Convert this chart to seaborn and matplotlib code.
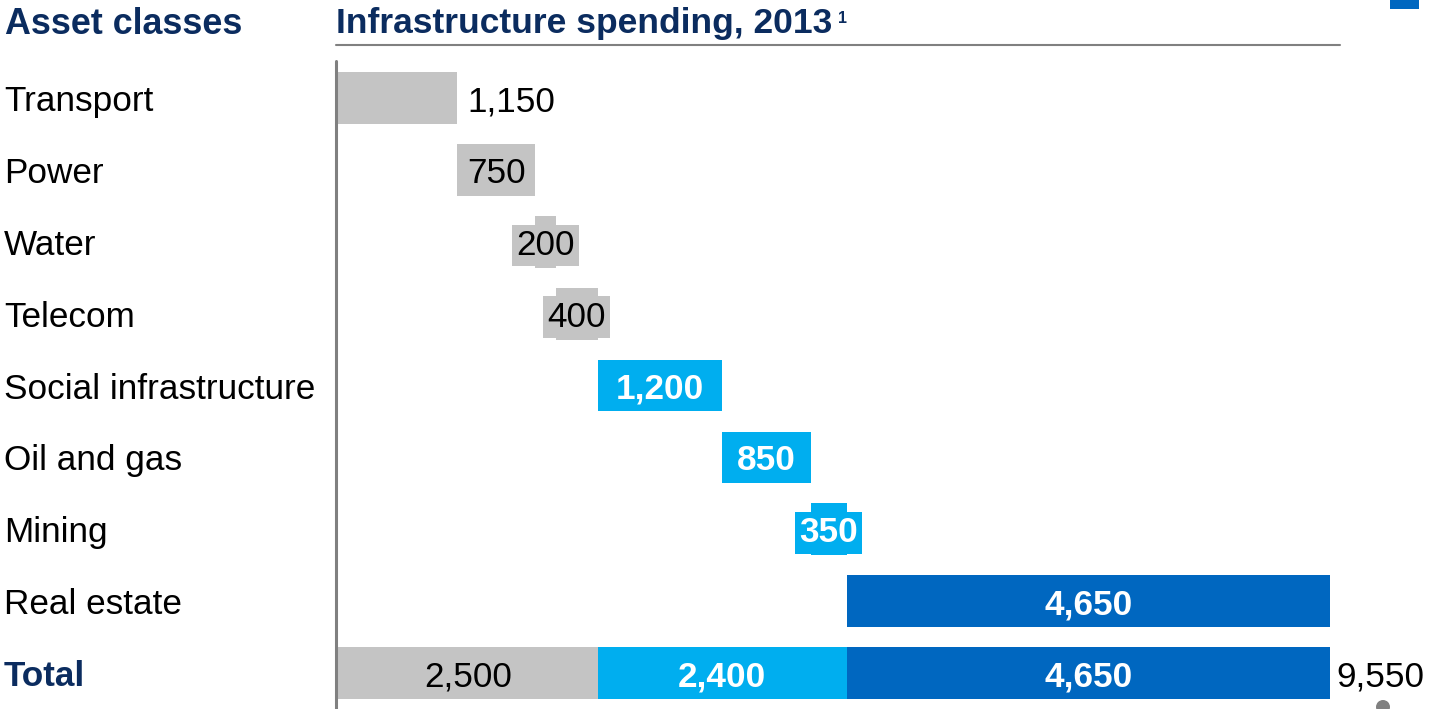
import matplotlib
matplotlib.use("Agg")
import matplotlib.pyplot as plt
import matplotlib.transforms as mtransforms
from matplotlib.lines import Line2D
from matplotlib.patches import Rectangle, Ellipse
import numpy as np
import pandas as pd
import seaborn as sns

# ---- data -------------------------------------------------------------
categories = ["Transport", "Power", "Water", "Telecom",
              "Social infrastructure", "Oil and gas", "Mining", "Real estate"]
values = [1150, 750, 200, 400, 1200, 850, 350, 4650]
group_of = [0, 0, 0, 0, 1, 1, 1, 2]          # asset group index per category
total_label = "Total"
total_segments = [2500, 2400, 4650]           # one segment per group
value_labels = ["1,150", "750", "200", "400", "1,200", "850", "350", "4,650"]
total_segment_labels = ["2,500", "2,400", "4,650"]
total_value_label = "9,550"
title = "Infrastructure spending, 2013"
column_header = "Asset classes"

# ---- style ------------------------------------------------------------
GROUP_COLORS = ["#c4c4c4", "#00aeef", "#0067c0"]
NAVY = "#0b2c5f"
RULE = "#808080"
W, H = 1431, 709
FS = 25.3
BASE_DROP = -13          # baseline offset (pixels) below the row centre
# label placement per category: "out" right of bar, "in" inside, "box" boxed
label_mode = ["out", "in", "box", "box", "in", "in", "box", "in"]

sns.set_theme(style="white")
plt.rcParams["font.family"] = ["Liberation Sans", "DejaVu Sans"]

fig = plt.figure(figsize=(W / 100, H / 100), dpi=100)
row_h = 71.875
ax = fig.add_axes([338 / W, 0, 992 / W, 9 * row_h / H])

rows = categories + [total_label]
ends = np.cumsum(values)
starts = ends - np.array(values)
total_value = int(np.sum(total_segments))
seg_ends = np.cumsum(total_segments)

cat_colors = [GROUP_COLORS[g] for g in group_of]

# layer 1: full extent of each row
df1 = pd.DataFrame({"row": rows, "x": list(ends) + [total_value]})
pal1 = dict(zip(rows, cat_colors + [GROUP_COLORS[2]]))
sns.barplot(data=df1, x="x", y="row", hue="row", palette=pal1, order=rows,
            legend=False, saturation=1, width=0.72, linewidth=0, ax=ax)

# layer 2: blank out the waterfall offsets, second total segment
df2 = pd.DataFrame({"row": rows, "x": list(starts) + [seg_ends[1]]})
pal2 = dict(zip(rows, ["white"] * len(categories) + [GROUP_COLORS[1]]))
sns.barplot(data=df2, x="x", y="row", hue="row", palette=pal2, order=rows,
            legend=False, saturation=1, width=0.735, linewidth=0, ax=ax)

# layer 3: first total segment
df3 = pd.DataFrame({"row": [total_label], "x": [seg_ends[0]]})
sns.barplot(data=df3, x="x", y="row", hue="row",
            palette={total_label: GROUP_COLORS[0]}, order=rows,
            legend=False, saturation=1, width=0.72, linewidth=0, ax=ax)

ax.set_xlim(0, total_value)
ax.set_ylim(len(rows) - 0.5, -0.5)
ax.set_xlabel("")
ax.set_ylabel("")
ax.set_xticks([])
ax.set_yticks([])
for s in ax.spines.values():
    s.set_visible(False)
ax.patch.set_alpha(0)


def put(text, x, y, dx=0, transform=None, **kw):
    """Write text whose cap height is centred on row y."""
    ax.annotate(text, (x, y), xycoords=transform or ax.transData,
                xytext=(dx, BASE_DROP), textcoords="offset pixels",
                va="baseline", fontsize=FS, annotation_clip=False, **kw)


# row labels
lab_tr = mtransforms.blended_transform_factory(fig.transFigure, ax.transData)
for i, name in enumerate(rows):
    bold = name == total_label
    put(name, 4 / W, i, transform=lab_tr, ha="left",
        fontweight="bold" if bold else "normal",
        color=NAVY if bold else "black")

# value labels
for i, (v, s, e, g, lab, mode) in enumerate(
        zip(values, starts, ends, group_of, value_labels, label_mode)):
    dark = g > 0
    col = "white" if dark else "black"
    wt = "bold" if dark else "normal"
    if mode == "out":
        put(lab, e, i, dx=10, ha="left", color=col, fontweight=wt)
    else:
        kw = {}
        if mode == "box":
            kw["bbox"] = dict(boxstyle="square,pad=0.12",
                              fc=GROUP_COLORS[g], ec="none")
        put(lab, (s + e) / 2, i, ha="center", color=col, fontweight=wt, **kw)

ti = len(rows) - 1
seg_starts = seg_ends - np.array(total_segments)
for k, (s, e, lab) in enumerate(zip(seg_starts, seg_ends, total_segment_labels)):
    put(lab, (s + e) / 2, ti, ha="center",
        color="black" if k == 0 else "white",
        fontweight="normal" if k == 0 else "bold")
put(total_value_label, total_value, ti, dx=6, ha="left", color="black")

# headers
fig.text(5 / W, 1 - 34 / H, column_header, ha="left", va="baseline",
         fontsize=25.8, fontweight="bold", color=NAVY)
fig.text(336 / W, 1 - 33 / H, title, ha="left", va="baseline",
         fontsize=25.5, fontweight="bold", color=NAVY)
fig.text(838 / W, 1 - 23 / H, "1", ha="left", va="baseline",
         fontsize=11.5, fontweight="bold", color=NAVY)

# rules and small decorations
fig.add_artist(Line2D([336 / W, 1340 / W], [1 - 45 / H, 1 - 45 / H],
                      color=RULE, lw=1.5, transform=fig.transFigure))
fig.add_artist(Line2D([336 / W, 336 / W], [1 - 61 / H, 0], color=RULE,
                      lw=2.2, solid_capstyle="round",
                      transform=fig.transFigure))
fig.add_artist(Rectangle((1390 / W, 1 - 9 / H), 29 / W, 9 / H,
                         transform=fig.transFigure, color=GROUP_COLORS[2],
                         lw=0))
fig.add_artist(Ellipse((1383 / W, 1 - 707 / H), 14 / W, 14 / H,
                       transform=fig.transFigure, color=RULE, lw=0))

fig.savefig("out.png", dpi=100)
